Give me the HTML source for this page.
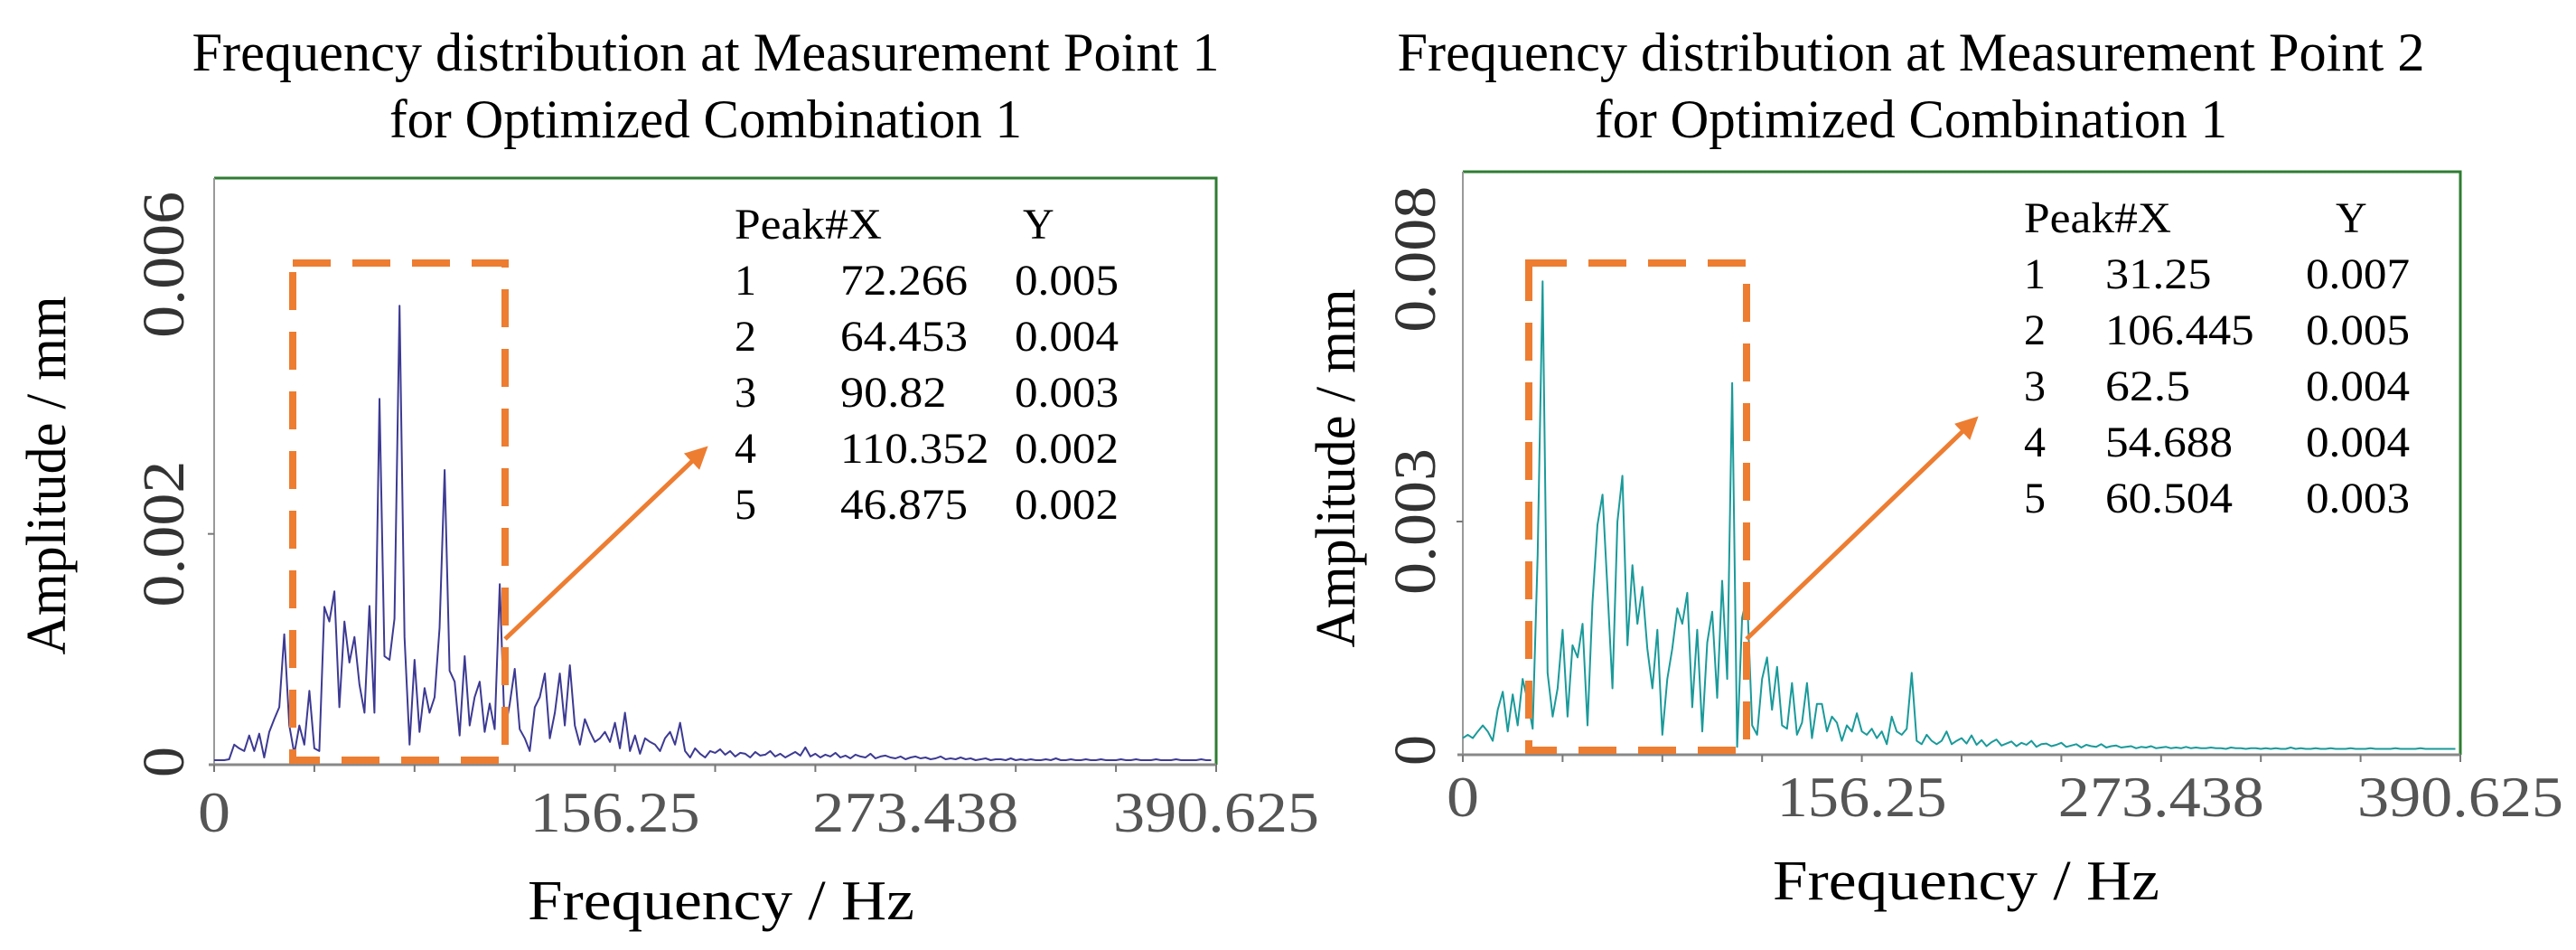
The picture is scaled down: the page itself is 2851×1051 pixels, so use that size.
<!DOCTYPE html>
<html><head><meta charset="utf-8">
<style>
html,body{margin:0;padding:0;background:#fff;}
svg{display:block;}
text{font-family:"Liberation Serif",serif;}
</style></head>
<body>
<svg id="fig" width="2851" height="1051" viewBox="0 0 2851 1051" xmlns="http://www.w3.org/2000/svg">
  <defs>
    <marker id="ah" viewBox="0 0 10 10" refX="8" refY="5" markerWidth="5" markerHeight="5" orient="auto">
      <path d="M0,0 L10,5 L0,10 z" fill="#ed7d31"/>
    </marker>
  </defs>
</svg>
<script>
// ---- shared data ----
const freqStep = 1.953125;
const xTickVals = [0, 156.25, 273.438, 390.625];
const xTickLabels = ["0", "156.25", "273.438", "390.625"];
const xMax = 390.625;

// ---- chart 1 (Measurement Point 1) amplitudes, units 1e-4 mm ----
const amp1 = [0.2,0.2,0.2,0.3,1.9,1.5,1.2,2.9,1.2,3.1,0.5,3.3,4.7,6.0,14.0,4.0,0.9,4.0,1.9,7.8,
1.5,1.2,17.0,15.4,18.7,6.0,15.4,10.9,13.7,8.5,5.4,17.1,5.4,39.8,11.6,11.2,15.7,50.0,13.7,1.9,
11.2,3.3,8.1,5.4,7.1,14.7,32.0,10.0,8.8,2.9,11.6,4.0,7.1,8.8,3.3,6.4,3.6,19.5,3.3,6.4,
10.2,3.6,2.6,1.2,6.0,7.1,9.7,2.6,5.4,9.7,4.0,10.6,4.0,1.9,4.7,3.3,2.2,2.6,3.3,2.2,
4.3,1.5,5.4,1.2,2.9,0.9,2.6,2.2,1.9,1.2,2.6,3.3,1.9,4.3,1.2,0.5,1.5,0.9,0.5,1.2,
1.0,1.4,0.8,1.2,0.6,1.0,0.9,0.5,1.1,0.7,0.8,1.2,0.6,0.9,0.5,0.8,1.1,0.7,1.6,0.6,
0.9,0.5,0.8,0.6,1.0,0.5,0.7,0.4,0.8,0.6,0.5,0.9,0.4,0.6,0.7,0.5,0.4,0.6,0.3,0.5,
0.6,0.4,0.5,0.3,0.4,0.6,0.3,0.4,0.3,0.5,0.3,0.4,0.2,0.3,0.4,0.2,0.3,0.3,0.2,0.4,
0.2,0.3,0.2,0.3,0.2,0.2,0.3,0.2,0.4,0.2,0.2,0.3,0.2,0.2,0.3,0.2,0.2,0.3,0.2,0.2,
0.2,0.3,0.2,0.2,0.3,0.2,0.2,0.2,0.3,0.2,0.2,0.2,0.3,0.2,0.2,0.2,0.2,0.3,0.2,0.2];
const yTickVals1 = [0, 0.0025, 0.00545];
const yTickLabels1 = ["0", "0.002", "0.006"];
const peakX1 = ["72.266","64.453","90.82","110.352","46.875"];
const peakY1 = ["0.005","0.004","0.003","0.002","0.002"];

// ---- chart 2 (Measurement Point 2) ----
const amp2 = [1.8,2.3,1.8,2.8,3.7,2.8,1.4,6.0,8.7,2.8,8.3,3.7,10.6,7.3,3.2,29.0,69.7,11.5,5.0,9.2,
17.9,5.0,15.6,13.8,18.8,3.7,22.0,33.5,38.0,23.9,9.2,34.0,40.8,15.6,27.5,18.8,24.3,15.1,9.2,17.9,
2.3,10.6,15.1,21.1,18.8,23.4,6.4,17.9,2.8,16.0,20.6,7.8,25.2,10.6,54.6,0.5,19.7,22.9,3.7,2.3,
10.6,13.8,6.0,12.4,3.7,3.2,10.0,2.3,4.1,10.0,1.8,6.9,6.9,2.8,5.0,4.1,1.4,3.7,2.8,5.5,
2.8,2.3,3.2,1.8,2.8,0.9,5.0,2.8,2.3,3.2,11.5,1.4,0.9,2.3,1.4,0.9,1.4,2.8,0.9,1.4,
1.8,1.0,2.2,0.8,1.5,0.6,1.2,1.6,0.7,1.0,1.3,0.6,1.1,0.8,1.4,0.5,0.9,1.0,0.6,0.8,
1.1,0.5,0.7,0.9,0.4,0.8,0.6,0.5,0.9,0.4,0.6,0.7,0.4,0.5,0.6,0.3,0.5,0.4,0.6,0.3,
0.4,0.5,0.3,0.4,0.3,0.5,0.3,0.4,0.3,0.3,0.4,0.3,0.3,0.2,0.4,0.3,0.3,0.2,0.3,0.3,
0.2,0.3,0.2,0.3,0.2,0.2,0.4,0.2,0.3,0.2,0.2,0.3,0.2,0.2,0.3,0.2,0.2,0.2,0.3,0.2,
0.2,0.2,0.3,0.2,0.2,0.2,0.2,0.3,0.2,0.2,0.2,0.2,0.3,0.2,0.2,0.2,0.2,0.2,0.2,0.2];
const yTickVals2 = [0, 0.0034, 0.0073];
const yTickLabels2 = ["0", "0.003", "0.008"];
const peakX2 = ["31.25","106.445","62.5","54.688","60.504"];
const peakY2 = ["0.007","0.005","0.004","0.004","0.003"];

const NS = "http://www.w3.org/2000/svg";
const svg = document.getElementById('fig');
function mk(tag, attrs, parent, txt){
  const e = document.createElementNS(NS, tag);
  for (const k in attrs) e.setAttribute(k, attrs[k]);
  if (txt !== undefined) e.textContent = txt;
  (parent || svg).appendChild(e);
  return e;
}

function drawChart(c){
  const g = mk('g', {});
  
  
  const xS = v => c.L + v / xMax * (c.R - c.L);
  const yS = v => c.Y0 - v / c.yMax * (c.Y0 - c.T);

  // titles
  const t1 = mk('text', {x: c.tx, y: c.ty1, 'text-anchor':'middle', 'font-size':60, textLength:1137, lengthAdjust:'spacingAndGlyphs', fill:'#000'}, g, c.title1);
  
  
  const t2 = mk('text', {x: c.tx, y: c.ty2, 'text-anchor':'middle', 'font-size':60, textLength:700, lengthAdjust:'spacingAndGlyphs', fill:'#000'}, g, 'for Optimized Combination 1');
  
  

  // frame: green top/right, gray left/bottom
  const fr = mk('path', {d:`M${c.L},${c.T} L${c.R},${c.T} L${c.R},${c.B}`, fill:'none', stroke:'#2e7d32', 'stroke-width':3}, g);
  
  
  const ya = mk('line', {x1:c.L, y1:c.T, x2:c.L, y2:c.B, stroke:'#999', 'stroke-width':2}, g);
  
  
  const xa = mk('line', {x1:c.L-6, y1:c.B, x2:c.R, y2:c.B, stroke:'#888', 'stroke-width':3}, g);
  
  

  // minor x ticks (10 intervals)
  for (let k = 0; k <= 10; k++){
    const x = xS(xMax * k / 10);
    const tk = mk('line', {x1:x, y1:c.B, x2:x, y2:c.B+8, stroke:'#777', 'stroke-width':2}, g);
    
    
  }
  // x tick labels
  xTickVals.forEach((v, i) => {
    const lab = xTickLabels[i];
    const w = lab.length === 1 ? 36 : (lab.length === 6 ? 188 : 228);
    const t = mk('text', {x: xS(v), y: c.xlabY, 'text-anchor':'middle', 'font-size':64, fill:'#555', textLength:w, lengthAdjust:'spacingAndGlyphs'}, g, lab);
    
    
  });
  // y ticks and labels
  c.yTickVals.forEach((v, i) => {
    const y = yS(v);
    if (i === 1){
      const tk = mk('line', {x1:c.L-7, y1:y, x2:c.L, y2:y, stroke:'#777', 'stroke-width':2}, g);
      
      
    }
    const lab = c.yTickLabels[i];
    const t = mk('text', {x:0, y:0, 'text-anchor':'middle', 'font-size':66, fill:'#333',
      transform:`translate(${c.ylabX},${y}) rotate(-90)`, textLength: lab.length === 1 ? 34 : 162, lengthAdjust:'spacingAndGlyphs'}, g, lab);
    
    
  });
  // axis titles
  const yt = mk('text', {x:0, y:0, 'text-anchor':'middle', 'font-size':62, fill:'#000',
    transform:`translate(${c.ytX},${c.ytY}) rotate(-90)`, textLength:397, lengthAdjust:'spacingAndGlyphs'}, g, 'Amplitude / mm');
  
  
  const xt = mk('text', {x:c.xtX, y:c.xtY, 'text-anchor':'middle', 'font-size':62, fill:'#000', textLength:428, lengthAdjust:'spacingAndGlyphs'}, g, 'Frequency / Hz');
  
  

  // spectrum line
  let d = '';
  c.amp.forEach((a, i) => {
    const x = xS(i * freqStep), y = yS(a * 1e-4);
    d += (i ? 'L' : 'M') + x.toFixed(1) + ',' + y.toFixed(1);
  });
  const ln = mk('path', {d, fill:'none', stroke:c.color, 'stroke-width':2, 'stroke-linejoin':'round'}, g);
  
  

  // dashed highlight box
  const bx = mk('rect', {x:c.box[0], y:c.box[1], width:c.box[2]-c.box[0], height:c.box[3]-c.box[1], fill:'none', stroke:'#ed7d31', 'stroke-width':8, 'stroke-dasharray':'42 24'}, g);
  
  
  const ar = mk('line', {x1:c.arrow[0], y1:c.arrow[1], x2:c.arrow[2], y2:c.arrow[3], stroke:'#ed7d31', 'stroke-width':5, 'marker-end':'url(#ah)'}, g);
  
  

  // peak table
  const tb = mk('g', {}, g);
  
  
  const h1 = mk('text', {x:c.tab[0], y:c.tabY0, 'font-size':48, fill:'#000', textLength:163, lengthAdjust:'spacingAndGlyphs'}, tb, 'Peak#X');
  
  
  const h2 = mk('text', {x:c.tab[3], y:c.tabY0, 'font-size':48, fill:'#000'}, tb, 'Y');
  
  
  c.peakX.forEach((px, i) => {
    const y = c.tabY0 + (i + 1) * c.tabDy;
    const a = mk('text', {x:c.tab[0], y, 'font-size':48, fill:'#000'}, tb, String(i + 1));
    
    
    const b = mk('text', {x:c.tab[1], y, 'font-size':48, fill:'#000', textLength: px.length * 23.5, lengthAdjust:'spacingAndGlyphs'}, tb, px);
    
    
    const cc = mk('text', {x:c.tab[2], y, 'font-size':48, fill:'#000', textLength:115, lengthAdjust:'spacingAndGlyphs'}, tb, c.peakY[i]);
    
    
  });
}

drawChart({name:'chart-point-1', title1:'Frequency distribution at Measurement Point 1',
  tx:781, ty1:78, ty2:152, L:237, R:1346, T:197, B:846, Y0:843, yMax:0.0064,
  xlabY:920, ylabX:203, yTickVals:yTickVals1, yTickLabels:yTickLabels1,
  ytX:72, ytY:526, xtX:798, xtY:1017, amp:amp1, color:'#3d3a93',
  box:[324,291,559,841], arrow:[559,707,780,497],
  tab:[813,930,1123,1132], tabY0:264, tabDy:62, peakX:peakX1, peakY:peakY1});

drawChart({name:'chart-point-2', title1:'Frequency distribution at Measurement Point 2',
  tx:2115, ty1:78, ty2:152, L:1619, R:2723, T:190, B:835, Y0:830, yMax:0.0086,
  xlabY:903, ylabX:1588, yTickVals:yTickVals2, yTickLabels:yTickLabels2,
  ytX:1499, ytY:518, xtX:2176, xtY:995, amp:amp2, color:'#1a9a9a',
  box:[1692,291,1933,830], arrow:[1933,707,2186,464],
  tab:[2240,2330,2552,2585], tabY0:257, tabDy:62, peakX:peakX2, peakY:peakY2});
</script>
</body></html>
